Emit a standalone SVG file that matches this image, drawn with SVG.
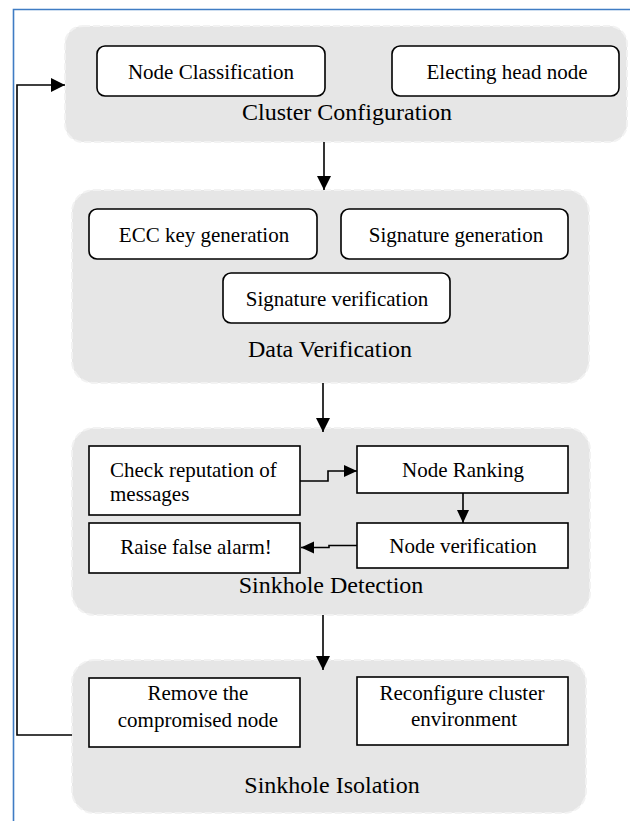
<svg xmlns="http://www.w3.org/2000/svg" width="630" height="821" viewBox="0 0 630 821">
<defs>
<style>
.grp{fill:#e6e6e6;stroke:#f2f2f2;stroke-width:2;stroke-dasharray:7 3}
.rn{fill:#fff;stroke:#000;stroke-width:1.6}
.t{font-family:"Liberation Serif","Times New Roman",serif;font-size:21px;fill:#000}
.gl{font-family:"Liberation Serif","Times New Roman",serif;font-size:24px;fill:#000;text-anchor:middle}
.c{text-anchor:middle}
.ln{fill:none;stroke:#000;stroke-width:1.6}
</style>
<marker id="ah" markerUnits="userSpaceOnUse" markerWidth="16" markerHeight="16" refX="14" refY="7" orient="auto">
<path d="M0,0 L14,7 L0,14 Z" fill="#000"/>
</marker>
<marker id="ahs" markerUnits="userSpaceOnUse" markerWidth="16" markerHeight="14" refX="13" refY="6" orient="auto">
<path d="M0,0 L13,6 L0,12 Z" fill="#000"/>
</marker>
</defs>
<rect width="630" height="821" fill="#fff"/>
<path d="M630,9.5 H13.5 V821" fill="none" stroke="#3f7cc4" stroke-width="1.6"/>

<g id="cluster-configuration">
<rect class="grp" x="65" y="26" width="562" height="116" rx="18"/>
<text class="gl" x="347" y="120">Cluster Configuration</text>
</g>
<g id="node-classification">
<rect class="rn" x="97" y="46" width="228" height="50" rx="8"/>
<text class="t c" x="211" y="79">Node Classification</text>
</g>
<g id="electing-head-node">
<rect class="rn" x="392" y="46" width="227" height="50" rx="8"/>
<text class="t c" x="507" y="79">Electing head node</text>
</g>

<g id="data-verification">
<rect class="grp" x="72" y="190" width="517" height="193" rx="22"/>
<text class="gl" x="330" y="357">Data Verification</text>
</g>
<g id="ecc-key-generation">
<rect class="rn" x="89" y="209" width="228" height="50" rx="8"/>
<text class="t c" x="204" y="242">ECC key generation</text>
</g>
<g id="signature-generation">
<rect class="rn" x="341" y="209" width="227" height="50" rx="8"/>
<text class="t c" x="456" y="242">Signature generation</text>
</g>
<g id="signature-verification">
<rect class="rn" x="223" y="273" width="227" height="50" rx="8"/>
<text class="t c" x="337" y="306">Signature verification</text>
</g>

<g id="sinkhole-detection">
<rect class="grp" x="72" y="428" width="518" height="187" rx="22"/>
<text class="gl" x="331" y="593">Sinkhole Detection</text>
</g>
<g id="check-reputation">
<rect class="rn" x="89" y="446" width="211" height="69"/>
<text class="t" x="110" y="477">Check reputation of</text>
<text class="t" x="110" y="501">messages</text>
</g>
<g id="node-ranking">
<rect class="rn" x="357" y="446" width="211" height="47"/>
<text class="t c" x="463" y="477">Node Ranking</text>
</g>
<g id="raise-false-alarm">
<rect class="rn" x="89" y="523" width="211" height="50"/>
<text class="t c" x="196" y="554">Raise false alarm!</text>
</g>
<g id="node-verification">
<rect class="rn" x="357" y="523" width="211" height="45"/>
<text class="t c" x="463" y="553">Node verification</text>
</g>

<g id="sinkhole-isolation">
<rect class="grp" x="72" y="660" width="514" height="153" rx="22"/>
<text class="gl" x="332" y="793">Sinkhole Isolation</text>
</g>
<g id="remove-node">
<rect class="rn" x="89" y="678" width="211" height="69"/>
<text class="t c" x="198" y="700">Remove the</text>
<text class="t c" x="198" y="727">compromised node</text>
</g>
<g id="reconfigure-cluster">
<rect class="rn" x="357" y="677" width="211" height="68"/>
<text class="t c" x="462" y="700">Reconfigure cluster</text>
<text class="t c" x="464" y="726">environment</text>
</g>

<g id="connectors">
<path class="ln" d="M324,142 V190" marker-end="url(#ah)"/>
<path class="ln" d="M323,383 V432" marker-end="url(#ah)"/>
<path class="ln" d="M323,615 V670" marker-end="url(#ah)"/>
<path class="ln" d="M72,735 H17 V85 H65" marker-end="url(#ah)"/>
<path class="ln" d="M300,481 H328 V471 H357" marker-end="url(#ahs)"/>
<path class="ln" d="M463,493 V523" marker-end="url(#ahs)"/>
<path class="ln" d="M357,545.5 H329 V547.5 H301" marker-end="url(#ahs)"/>
</g>
</svg>
